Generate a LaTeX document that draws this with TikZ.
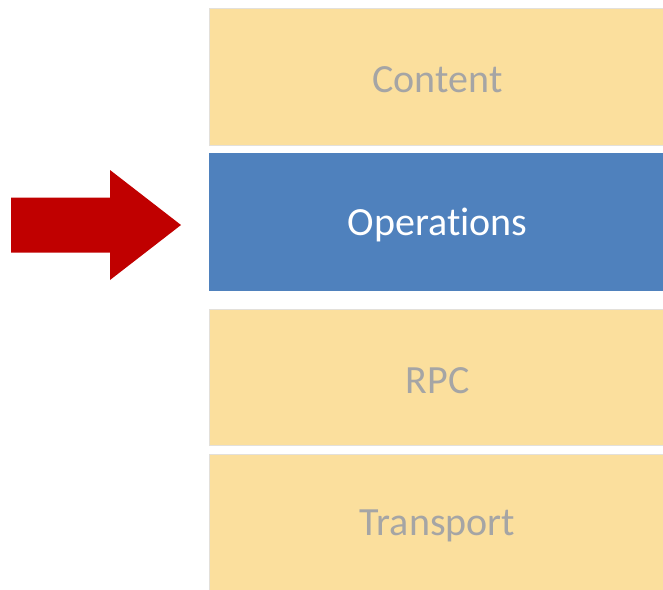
\documentclass[tikz,border=0pt]{standalone}
\usepackage{fontspec}
\setmainfont[Ligatures=NoCommon]{Carlito}
\definecolor{layerfill}{HTML}{FBDF9D}
\definecolor{layerline}{HTML}{E3E0DA}
\definecolor{layertext}{HTML}{A5A5A5}
\definecolor{activefill}{HTML}{4F81BD}
\definecolor{pointer}{HTML}{C00000}
\tikzset{
  layer/.style={draw=layerline, line width=0.8pt, fill=layerfill},
  activelayer/.style={draw=activefill, line width=0.8pt, fill=activefill},
  layerlabel/.style={text=layertext, font=\fontsize{40}{48}\selectfont},
  activelabel/.style={layerlabel, text=white},
}
\begin{document}
\begin{tikzpicture}[x=1pt,y=-1pt]
  \useasboundingbox (0,0) rectangle (663,589);
  % protocol stack layers
  \draw[layer] (209.5,8.5) rectangle (670,145.5);
  \node[layerlabel] (content) at (437.5,80) {Content};
  \draw[activelayer] (209.5,153.5) rectangle (670,290);
  \node[activelabel] (ops) at (437.5,225) {Operations};
  \draw[layer] (209.5,309.5) rectangle (670,445.5);
  \node[layerlabel] (rpc) at (437.5,381) {RPC};
  \draw[layer] (209.5,454.5) rectangle (670,600);
  \node[layerlabel] (transport) at (437.5,526) {Transport};
  % block arrow pointing at the highlighted layer
  \fill[pointer] (11,197.5) -- (110,197.5) -- (110,170) -- (181,225)
    -- (110,280) -- (110,252.5) -- (11,252.5) -- cycle;
\end{tikzpicture}
\end{document}
